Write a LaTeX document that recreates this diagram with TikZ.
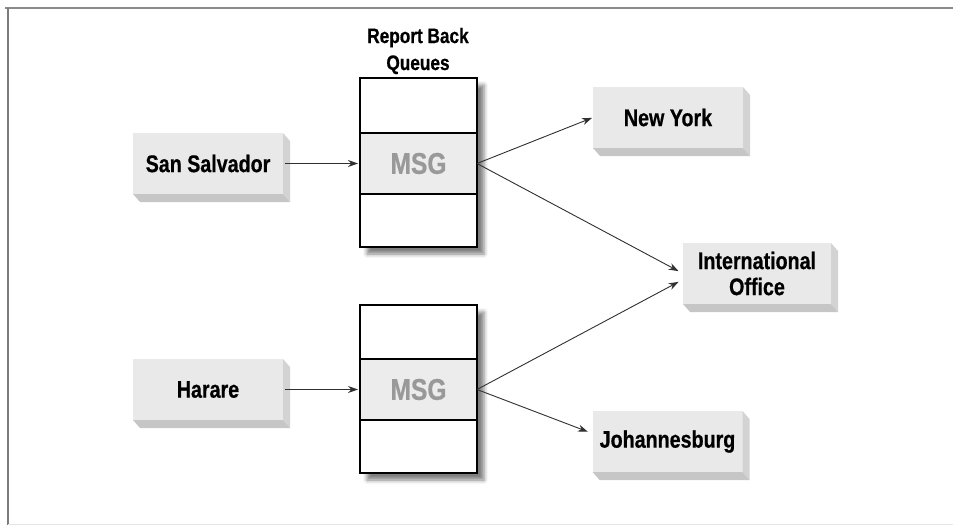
\documentclass[tikz,border=0pt]{standalone}
\usepackage{fontspec}
\setmainfont{Liberation Sans}[FakeStretch=0.82, BoldFeatures={FakeBold=0.6}]
\usetikzlibrary{arrows.meta,shadows.blur}

\definecolor{facegray}{HTML}{E9E9E9}
\definecolor{sidegray}{HTML}{D3D3D3}
\definecolor{basegray}{HTML}{C6C6C6}
\definecolor{msgfill}{HTML}{ECECEC}
\definecolor{msgtext}{HTML}{999999}
\definecolor{linkgray}{HTML}{303030}
\definecolor{framegray}{HTML}{8A8A8A}

% 3-D extrusion below and to the right of a place box
\newcommand\extrude[1]{%
  \fill[sidegray] (#1.north east) -- ++(7,8) -- ([shift={(7,8)}]#1.south east) -- (#1.south east) -- cycle;
  \fill[basegray] (#1.south west) -- ++(7,8) -- ([shift={(7,8)}]#1.south east) -- (#1.south east) -- cycle;
}

\tikzset{
  every node/.style={outer sep=0pt},
  place/.style={fill=facegray, minimum width=150pt, minimum height=61pt, inner sep=0pt,
    align=center, font=\fontsize{24}{26}\selectfont\bfseries},
  queue/.style={fill=white, minimum width=117pt, inner sep=0pt,
    blur shadow={shadow xshift=7pt, shadow yshift=-7pt, shadow blur radius=4pt, shadow opacity=50}},
  cell/.style={draw=black, line width=1.8pt, fill=white, minimum width=117pt, inner sep=0pt},
  msgcell/.style={cell, fill=msgfill, text=msgtext, font=\fontsize{30}{32}\selectfont\bfseries},
  link/.style={draw=linkgray, line width=0.9pt, -{Stealth[length=10pt,width=7pt]}},
}

\begin{document}
\begin{tikzpicture}[x=1pt,y=-1pt]
\useasboundingbox (0,0) rectangle (953,525);

% frame
\draw[framegray, line width=2.5pt] (5,8) -- (953,8);
\draw[framegray!90!black, line width=2.5pt] (8,8) -- (8,525);
\draw[black!10, line width=1pt] (8,524) -- (953,524);

% title
\node[align=center, font=\fontsize{21}{27}\selectfont\bfseries] (title) at (418,51) {Report Back\\Queues};

% upper queue
\node[queue, minimum height=169pt] (qa) at (418.5,162.5) {};
\node[cell, anchor=north, minimum height=55pt] (qa1) at (qa.north) {};
\node[msgcell, anchor=north, minimum height=61pt] (qa2) at (qa1.south) {MSG};
\node[cell, anchor=north, minimum height=53pt] (qa3) at (qa2.south) {};

% lower queue
\node[queue, minimum height=168pt] (qb) at (418.5,389) {};
\node[cell, anchor=north, minimum height=54pt] (qb1) at (qb.north) {};
\node[msgcell, anchor=north, minimum height=61pt] (qb2) at (qb1.south) {MSG};
\node[cell, anchor=north, minimum height=53pt] (qb3) at (qb2.south) {};

% places
\node[place] (ss) at (208,163.5) {San Salvador};
\node[place] (ha) at (208,389.5) {Harare};
\node[place] (ny) at (668,117.5) {New York};
\node[place, minimum width=148pt] (io) at (757,273.5) {International\\Office};
\node[place] (jb) at (667.5,441.5) {Johannesburg};
\extrude{ss}
\extrude{ha}
\extrude{ny}
\extrude{io}
\extrude{jb}

% connectors
\draw[link, shorten <=2pt, shorten >=2pt] (ss.east) -- (qa2.west);
\draw[link, shorten <=2pt, shorten >=2pt] (ha.east) -- (qb2.west);
\draw[link, shorten >=1pt] (qa2.east) -- (ny.west);
\draw[link, shorten >=5pt] (qa2.east) -- (io.west);
\draw[link, shorten >=5pt] (qb2.east) -- ([yshift=-6pt]io.west);
\draw[link, shorten >=5pt] (qb2.east) -- ([yshift=8pt]jb.west);
\end{tikzpicture}
\end{document}
